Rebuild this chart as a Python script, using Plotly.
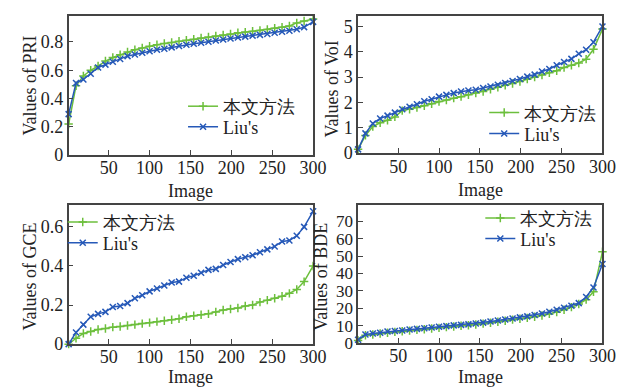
import plotly.graph_objects as go

images = [1, 10, 19, 28, 37, 46, 55, 64, 73, 82, 91, 100, 109, 118, 127, 136, 145,
          154, 163, 172, 181, 190, 199, 208, 217, 226, 235, 244, 253, 262, 271, 280, 289, 300]

pri_ours = [0.22, 0.49, 0.56, 0.60, 0.63, 0.665, 0.69, 0.71, 0.73, 0.745, 0.757, 0.77, 0.78, 0.79,
            0.797, 0.805, 0.812, 0.82, 0.828, 0.835, 0.843, 0.85, 0.857, 0.865, 0.87, 0.876,
            0.882, 0.888, 0.897, 0.905, 0.913, 0.935, 0.948, 0.962]
pri_liu = [0.29, 0.51, 0.535, 0.575, 0.62, 0.64, 0.66, 0.68, 0.70, 0.712, 0.724, 0.735, 0.745,
           0.752, 0.762, 0.772, 0.78, 0.787, 0.795, 0.802, 0.81, 0.817, 0.825, 0.832, 0.838,
           0.845, 0.85, 0.857, 0.865, 0.872, 0.88, 0.89, 0.905, 0.942]

voi_ours = [0.15, 0.70, 1.05, 1.20, 1.30, 1.43, 1.68, 1.73, 1.80, 1.87, 1.95, 2.04, 2.10, 2.17,
            2.23, 2.30, 2.37, 2.43, 2.52, 2.60, 2.68, 2.75, 2.83, 2.92, 3.00, 3.08, 3.17, 3.25,
            3.38, 3.47, 3.56, 3.71, 4.10, 4.90]
voi_liu = [0.15, 0.78, 1.17, 1.37, 1.48, 1.60, 1.73, 1.83, 1.93, 2.05, 2.13, 2.23, 2.30, 2.37,
           2.43, 2.47, 2.50, 2.57, 2.63, 2.70, 2.77, 2.85, 2.93, 3.02, 3.10, 3.22, 3.32, 3.47,
           3.60, 3.72, 3.92, 4.08, 4.38, 5.00]

gce_ours = [0.0, 0.03, 0.055, 0.065, 0.075, 0.08, 0.087, 0.09, 0.095, 0.10, 0.105, 0.11, 0.115,
            0.12, 0.125, 0.13, 0.14, 0.145, 0.15, 0.155, 0.165, 0.175, 0.18, 0.185, 0.195, 0.20,
            0.215, 0.225, 0.235, 0.245, 0.26, 0.28, 0.32, 0.40]
gce_liu = [0.0, 0.06, 0.10, 0.14, 0.155, 0.165, 0.19, 0.195, 0.21, 0.235, 0.25, 0.27, 0.285,
           0.30, 0.315, 0.32, 0.34, 0.35, 0.365, 0.38, 0.385, 0.405, 0.42, 0.435, 0.445, 0.455,
           0.47, 0.485, 0.50, 0.525, 0.53, 0.555, 0.60, 0.68]

bde_ours = [1.5, 4.5, 5.0, 5.5, 6.0, 6.5, 6.8, 7.2, 7.6, 8.0, 8.4, 8.8, 9.2, 9.6, 10.0, 10.3,
            10.7, 11.2, 11.7, 12.3, 12.9, 13.5, 14.0, 14.5, 15.2, 15.9, 16.8, 17.8, 19.2, 20.7,
            22.5, 25.0, 29.5, 52.5]
bde_liu = [2.0, 5.0, 5.5, 6.0, 6.7, 7.0, 7.3, 7.8, 8.2, 8.6, 9.0, 9.4, 9.8, 10.2, 10.5, 10.8,
           11.3, 11.8, 12.4, 13.0, 13.6, 14.2, 14.8, 15.4, 16.2, 17.0, 18.0, 19.2, 20.3, 21.5,
           23.0, 26.5, 32.0, 45.5]

series_names = ["本文方法", "Liu's"]
x_ticks = [50, 100, 150, 200, 250, 300]
x_title = "Image"

GREEN = "#6cbf3c"
BLUE = "#2659b8"
FONT = "Liberation Serif"
FS = 18
W, H = 631, 389

panels = [
    dict(ours=pri_ours, liu=pri_liu, title="Values of PRI", yr=[0, 0.985],
         yt=[0, 0.2, 0.4, 0.6, 0.8], ytt=["0", "0.2", "0.4", "0.6", "0.8"],
         dx=[0.0983, 0.4945], dy=[0.6118, 0.9794], lx=0.2837, ly=[0.7401, 0.6861],
         ytx=22, yty=80, xty=188, tfs=18),
    dict(ours=voi_ours, liu=voi_liu, title="Values of VoI", yr=[0, 5.42],
         yt=[0, 1, 2, 3, 4, 5], ytt=["0", "1", "2", "3", "4", "5"],
         dx=[0.5674, 0.9635], dy=[0.6170, 0.9794], lx=0.7718, ly=[0.7235, 0.6681],
         ytx=331, yty=83, xty=187, tfs=18),
    dict(ours=gce_ours, liu=gce_liu, title="Values of GCE", yr=[0, 0.713],
         yt=[0, 0.2, 0.4, 0.6], ytt=["0", "0.2", "0.4", "0.6"],
         dx=[0.0983, 0.4945], dy=[0.1131, 0.4807], lx=0.0887, ly=[0.4347, 0.3798],
         ytx=22, yty=276, xty=379, tfs=18),
    dict(ours=bde_ours, liu=bde_liu, title="Values of BDE", yr=[0, 79.5],
         yt=[0, 10, 20, 30, 40, 50, 60, 70], ytt=["0", "10", "20", "30", "40", "50", "60", "70"],
         dx=[0.5674, 0.9635], dy=[0.1157, 0.4807], lx=0.7655, ly=[0.4450, 0.3910],
         ytx=320, yty=276, xty=379, tfs=17),
]

fig = go.Figure()
layout = dict(
    width=W, height=H, margin=dict(l=0, r=0, t=0, b=0),
    paper_bgcolor="white", plot_bgcolor="white", showlegend=True,
    font=dict(family=FONT, size=FS, color="#222"),
)
annotations = []

leg_idx = 0
for i, p in enumerate(panels, start=1):
    sfx = "" if i == 1 else str(i)
    for k, (name, vals, color, sym) in enumerate([(series_names[0], p["ours"], GREEN, "cross-thin"),
                                                  (series_names[1], p["liu"], BLUE, "x-thin")]):
        leg_idx += 1
        leg = "legend" if leg_idx == 1 else f"legend{leg_idx}"
        fig.add_trace(go.Scatter(
            x=images, y=vals, name=name, mode="lines+markers", showlegend=True,
            line=dict(color=color, width=1.5),
            marker=dict(symbol=sym, size=6, line=dict(color=color, width=1.5)),
            xaxis="x" + sfx, yaxis="y" + sfx, legend=leg, cliponaxis=False,
        ))
        layout[leg] = dict(x=p["lx"], y=p["ly"][k], xanchor="left", yanchor="middle",
                           bgcolor="rgba(0,0,0,0)", borderwidth=0, itemwidth=30,
                           font=dict(family=FONT, size=FS, color="#222"))
    axis_common = dict(showline=True, mirror=True, linecolor="#444", linewidth=1.5,
                       ticks="inside", ticklen=5, tickcolor="#444", showgrid=False,
                       zeroline=False)
    layout["xaxis" + sfx] = dict(domain=p["dx"], anchor="y" + sfx, range=[1, 300],
                                 tickvals=x_ticks, ticklabelstandoff=-4,
                                 tickfont=dict(family=FONT, size=FS, color="#222"), **axis_common)
    layout["yaxis" + sfx] = dict(domain=p["dy"], anchor="x" + sfx, range=p["yr"],
                                 tickvals=p["yt"], ticktext=p["ytt"],
                                 tickfont=dict(family=FONT, size=p["tfs"], color="#222"), **axis_common)
    annotations.append(dict(text=x_title, xref="paper", yref="paper",
                            x=(p["dx"][0] + p["dx"][1]) / 2, y=1 - p["xty"] / H,
                            xanchor="center", yanchor="middle", showarrow=False,
                            font=dict(family=FONT, size=FS, color="#222")))
    annotations.append(dict(text=p["title"], xref="paper", yref="paper", textangle=-90,
                            x=p["ytx"] / W, y=1 - p["yty"] / H,
                            xanchor="center", yanchor="middle", showarrow=False,
                            font=dict(family=FONT, size=FS, color="#222")))

layout["annotations"] = annotations
fig.update_layout(**layout)
fig.write_html("out.html")
